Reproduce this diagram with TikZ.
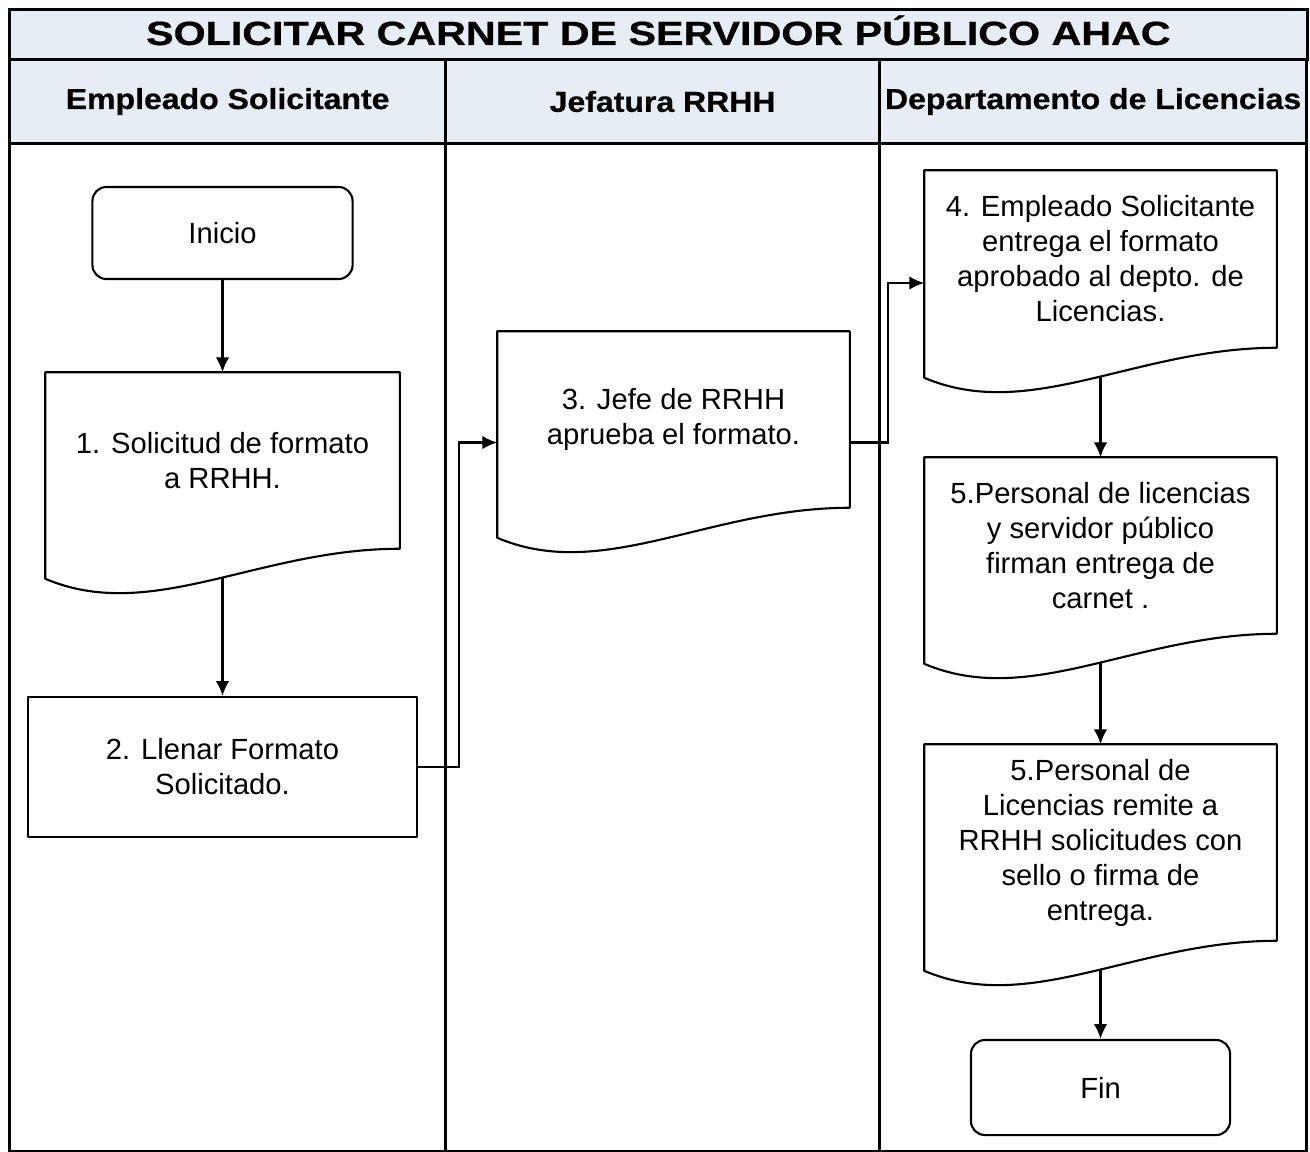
\documentclass[tikz,border=0pt]{standalone}
\usepackage{fontspec}
\setmainfont{Liberation Sans}
\newfontfamily\heavyfont[FakeBold=0.6]{Liberation Sans Bold}
\usetikzlibrary{arrows.meta,calc}
\definecolor{hdrfill}{RGB}{231,237,244}
\newcommand\bodysize{\fontsize{8.3pt}{9.96pt}\selectfont}
\newcommand\titlesize{\heavyfont\fontsize{9.5pt}{11pt}\selectfont}
\newcommand\headsize{\heavyfont\fontsize{8.2pt}{10pt}\selectfont}
\newcommand\docshape[1]{%
  \draw[shp] (#1.north west) -- (#1.north east) -- (#1.south east)
    .. controls ($(#1.south west)!0.6!(#1.south east)$) and ($(#1.south west)!0.3!(#1.south east)+(0,75)$)
    .. ($(#1.south west)+(0,30)$) -- cycle;
  \coordinate (#1-b) at ($(#1.south)+(0,29)$);
}
\begin{document}
\begin{tikzpicture}[x=0.01cm,y=-0.01cm,
  frame/.style={draw=black,line width=0.85pt,inner sep=0pt},
  hdr/.style={frame,fill=hdrfill,minimum height=0.84cm,anchor=north west,font=\headsize},
  lane/.style={frame,fill=white,minimum height=10.07cm,anchor=north west},
  shp/.style={draw=black,line width=0.6pt,line join=round},
  arr/.style={draw=black,line width=0.6pt,-{Latex[length=4.2pt,width=3.8pt]}},
  lbl/.style={inner sep=0pt,align=center,font=\bodysize},
  term/.style={lbl,shp,rounded corners=0.14cm},
  docnode/.style={lbl,minimum width=3.51cm,minimum height=1.75cm},
  procbox/.style={lbl,shp}]
\useasboundingbox (0,0) rectangle (1310,1151);

% swimlane frame
\node[frame,fill=hdrfill,minimum width=12.97cm,minimum height=0.5cm,anchor=north west] (title) at (8,8)
  {\raisebox{2.5pt}{\scalebox{1.234}[1]{\titlesize SOLICITAR CARNET DE SERVIDOR PÚBLICO AHAC}}};
\node[hdr,minimum width=4.36cm] (h1) at (8,58) {\scalebox{1.11}[1]{Empleado Solicitante}};
\node[hdr,minimum width=4.34cm] (h2) at (444,58) {\scalebox{1.11}[1]{Jefatura RRHH}};
\node[hdr,minimum width=4.27cm] (h3) at (878,58) {\scalebox{1.11}[1]{Departamento de Licencias}};
\node[lane,minimum width=4.36cm] (l1) at (8,142) {};
\node[lane,minimum width=4.34cm] (l2) at (444,142) {};
\node[lane,minimum width=4.27cm] (l3) at (878,142) {};

% lane 1
\node[term,minimum width=2.60cm,minimum height=0.92cm] (ini) at (222.5,233) {Inicio};
\node[docnode,minimum width=3.53cm] (d1) at (222.5,460.5) {1. Solicitud de formato\\a RRHH.};
\docshape{d1}
\node[procbox,minimum width=3.89cm,minimum height=1.40cm] (b2) at (222.5,767) {2. Llenar Formato\\Solicitado.};

% lane 2
\node[docnode] (d3) at (673.5,419.5) {3. Jefe de RRHH\\aprueba el formato.};
\docshape{d3}

% lane 3
\node[docnode,minimum height=1.76cm] (d4) at (1100.5,259) {4. Empleado Solicitante\\entrega el formato\\aprobado al depto. de\\Licencias.};
\docshape{d4}
\node[docnode] (d5) at (1100.5,545.5) {5.Personal de licencias\\y servidor público\\firman entrega de\\carnet .};
\docshape{d5}
\node[docnode,minimum height=1.95cm] (d6) at (1100.5,842.5) {5.Personal de\\Licencias remite a\\RRHH solicitudes con\\sello o firma de\\entrega.};
\docshape{d6}
\node[term,minimum width=2.59cm,minimum height=0.95cm] (fin) at (1100.5,1087.5) {Fin};

% connectors
\draw[arr] (ini) -- (d1);
\draw[arr] (d1-b) -- (b2);
\draw[arr] (b2.east) -- ++(41,0) |- ($(d3.west)+(0,23)$);
\draw[arr] ($(d3.east)+(0,23)$) -- ++(38,0) |- ($(d4.west)+(0,24)$);
\draw[arr] (d4-b) -- (d5);
\draw[arr] (d5-b) -- (d6);
\draw[arr] (d6-b) -- (fin);
\end{tikzpicture}
\end{document}
